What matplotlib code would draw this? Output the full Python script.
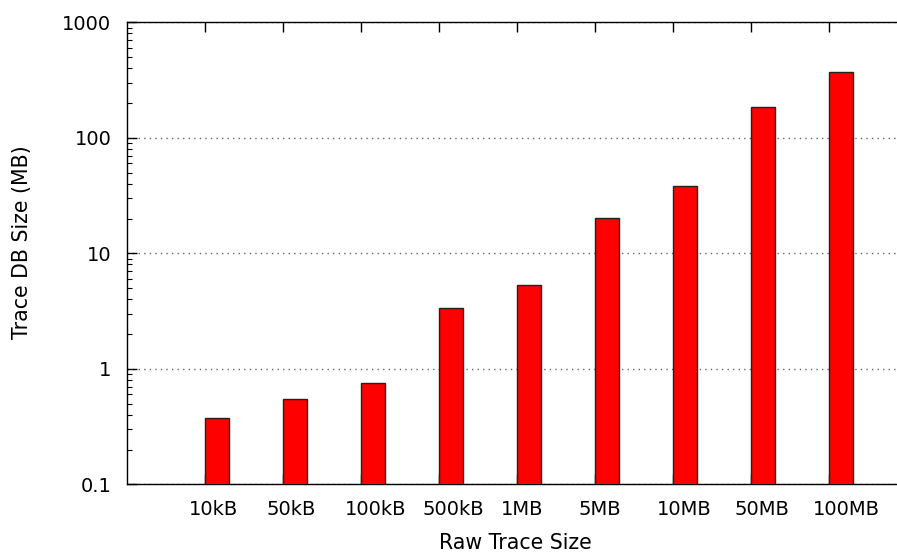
import numpy as np
import matplotlib.pyplot as plt
import matplotlib.transforms as mtransforms

# raw trace sizes and resulting trace DB sizes (MB)
sizes = ["10kB", "50kB", "100kB", "500kB", "1MB", "5MB", "10MB", "50MB", "100MB"]
db_size = [0.377, 0.547, 0.757, 3.34, 5.35, 20.3, 38.5, 186, 373]

fig = plt.figure(figsize=(8.97, 5.53), dpi=100)
# right border sits just off the picture (xrange -1..9)
ax = fig.add_axes([126.7 / 897, 1 - 484.3 / 553, 780 / 897, 462 / 553])

x = np.arange(len(sizes))
ax.bar(x, db_size, width=0.31, align="edge", color="#ff0000",
       edgecolor="#222222", linewidth=1.0, zorder=3)

ax.set_yscale("log")
ax.set_ylim(0.1, 1000)
ax.set_xlim(-1, 9)

ax.set_yticks([0.1, 1, 10, 100, 1000])
ax.set_yticklabels(["0.1", "1", "10", "100", "1000"])
ax.set_xticks(x)
ax.set_xticklabels(sizes)

# gnuplot-like ticks: inward, mirrored on top
ax.tick_params(axis="both", which="major", direction="in", length=7, width=1,
               labelsize=14, colors="black")
ax.tick_params(axis="y", which="minor", direction="in", length=3.6, width=0.8)
ax.tick_params(axis="y", which="major", pad=11)
ax.tick_params(axis="x", which="major", pad=11, top=True)
ax.tick_params(axis="x", which="minor", bottom=False, top=False)

offset = mtransforms.ScaledTranslation(-16 / 100, 0, fig.dpi_scale_trans)
for lab in ax.get_xticklabels():
    lab.set_horizontalalignment("left")
    lab.set_transform(lab.get_transform() + offset)

ax.yaxis.grid(True, which="major", linestyle=(0, (1, 3)), color="#666666",
              linewidth=1.0)
ax.set_axisbelow(True)

for s in ["left", "bottom", "top"]:
    ax.spines[s].set_linewidth(1.0)
ax.spines["right"].set_visible(False)

fig.text(22 / 897, 1 - 242 / 553, "Trace DB Size (MB)", rotation=90,
         ha="center", va="center", fontsize=14.8)
fig.text(515.5 / 897, 1 - 549 / 553, "Raw Trace Size",
         ha="center", va="baseline", fontsize=14.8)

fig.savefig("out.png", dpi=100)
